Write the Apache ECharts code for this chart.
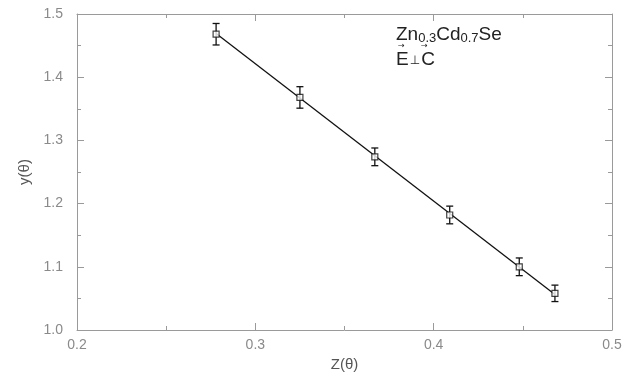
<!DOCTYPE html>
<html><head><meta charset="utf-8">
<script src="https://cdn.jsdelivr.net/npm/echarts@6/dist/echarts.min.js"></script>
<style>html,body{margin:0;padding:0;background:#fff}#c{width:634px;height:381px}</style>
</head><body><div id="c"></div>
<script>
const zValues = [0.278, 0.325, 0.367, 0.409, 0.448, 0.468];
const yValues = [1.468, 1.368, 1.274, 1.182, 1.100, 1.058];
const yErrors = [0.017, 0.017, 0.014, 0.014, 0.014, 0.013];
const fitZ = [0.278, 0.468];
const fitY = [1.469, 1.056];
const xTicks = [0.2, 0.3, 0.4, 0.5];
const yTicks = [1.0, 1.1, 1.2, 1.3, 1.4, 1.5];

const axisCol = '#9a9a9a';
const labCol = '#8a8a8a';
const pts = zValues.map((z, i) => [z, yValues[i]]);
const errs = zValues.map((z, i) => [z, yValues[i] - yErrors[i], yValues[i] + yErrors[i]]);
const fit = fitZ.map((z, i) => [z, fitY[i]]);

function axisBase(pos, isX, showLab) {
  return {
    type: 'value', position: pos,
    min: isX ? xTicks[0] : yTicks[0],
    max: isX ? xTicks[xTicks.length - 1] : yTicks[yTicks.length - 1],
    interval: 0.1,
    axisLine: {show: true, lineStyle: {color: axisCol, width: 1}},
    axisTick: {show: true, inside: true, length: 7, lineStyle: {color: axisCol}},
    minorTick: {show: true, splitNumber: 2, length: 4, lineStyle: {color: axisCol}},
    splitLine: {show: false},
    axisLabel: {show: showLab, color: labCol, fontSize: 14, fontFamily: 'Liberation Sans',
      margin: isX ? 8 : 14, formatter: v => v.toFixed(1)}
  };
}
const x1 = axisBase('bottom', true, true);
x1.name = 'Z(θ)'; x1.nameLocation = 'middle'; x1.nameGap = 25;
x1.nameTextStyle = {color: '#555', fontSize: 15, fontFamily: 'Liberation Sans'};
const y1 = axisBase('left', false, true);
y1.name = 'y(θ)'; y1.nameLocation = 'middle'; y1.nameGap = 44;
y1.nameTextStyle = {color: '#555', fontSize: 15, fontFamily: 'Liberation Sans'};

const arrowStyle = {text: '→', fontSize: 8, fontFamily: 'DejaVu Sans', fill: '#222'};
const chart = echarts.init(document.getElementById('c'));
chart.setOption({
  animation: false,
  backgroundColor: '#fff',
  grid: {left: 77, right: 22, top: 14, bottom: 51},
  xAxis: [x1, axisBase('top', true, false)],
  yAxis: [y1, axisBase('right', false, false)],
  graphic: [{
    type: 'text', left: 396, top: 25,
    style: {
      rich: {
        b: {fontSize: 19, fontFamily: 'Liberation Sans', fill: '#222'},
        s: {fontSize: 13, fontFamily: 'Liberation Sans', fill: '#222', padding: [7, 0, 0, 0]}
      },
      text: '{b|Zn}{s|0.3}{b|Cd}{s|0.7}{b|Se}'
    }
  }, {
    type: 'text', left: 396, top: 50,
    style: {
      rich: {
        b: {fontSize: 19, fontFamily: 'Liberation Sans', fill: '#222'},
        p: {fontSize: 12, fontFamily: 'DejaVu Sans', fill: '#222', padding: [3, 1, 0, 1]}
      },
      text: '{b|E}{p|⊥}{b|C}'
    }
  }, {
    type: 'text', left: 398, top: 42, style: arrowStyle
  }, {
    type: 'text', left: 421, top: 42, style: arrowStyle
  }],
  series: [
    {type: 'line', data: fit, symbol: 'none', lineStyle: {color: '#111', width: 1.3}, z: 2},
    {type: 'custom', data: errs, z: 3,
      renderItem: (params, api) => {
        const x = api.coord([api.value(0), api.value(1)]);
        const hi = api.coord([api.value(0), api.value(2)]);
        const w = 3.5;
        const st = {stroke: '#111', lineWidth: 1.3};
        return {type: 'group', children: [
          {type: 'line', shape: {x1: x[0], y1: x[1], x2: hi[0], y2: hi[1]}, style: st},
          {type: 'line', shape: {x1: x[0] - w, y1: x[1], x2: x[0] + w, y2: x[1]}, style: st},
          {type: 'line', shape: {x1: hi[0] - w, y1: hi[1], x2: hi[0] + w, y2: hi[1]}, style: st}
        ]};
      }},
    {type: 'scatter', data: pts, symbol: 'rect', symbolSize: 6, z: 4,
      itemStyle: {color: '#fff', borderColor: '#111', borderWidth: 1.2}}
  ]
});
</script></body></html>
